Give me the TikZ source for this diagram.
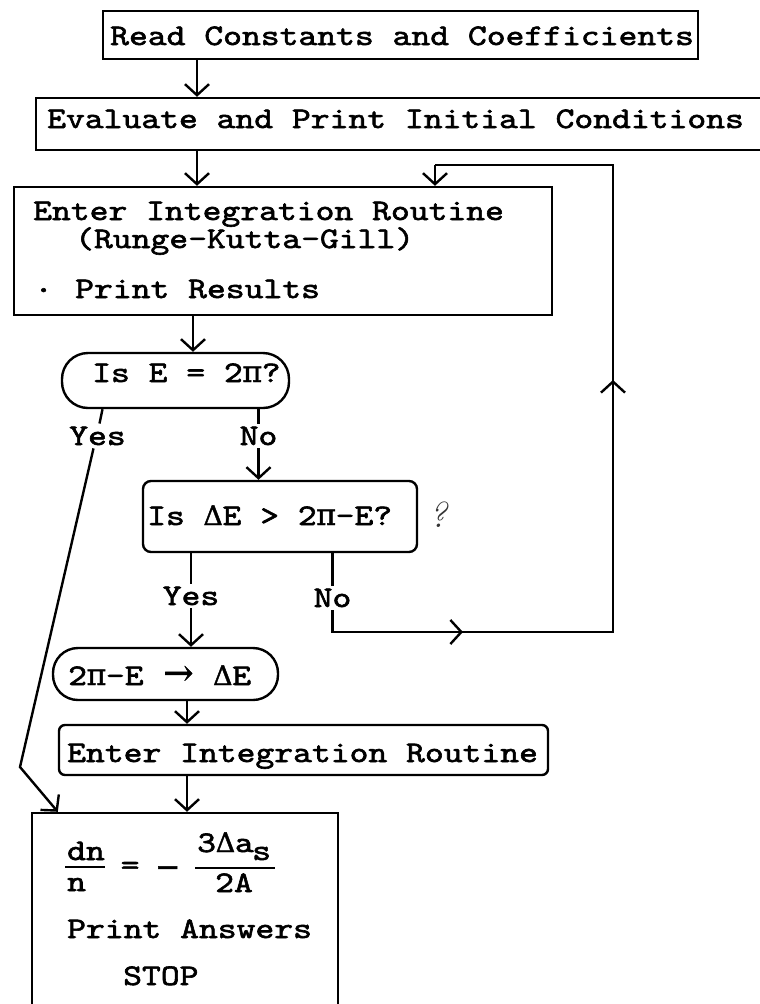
\documentclass[tikz,border=0pt]{standalone}
\usepackage{fontspec}
\usepackage{graphicx}
\usetikzlibrary{arrows.meta}
\newfontfamily\tw{lmmono10-regular.otf}[FakeStretch=1.2,FakeBold=2]
\newfontfamily\gr{DejaVu Serif}[FakeBold=1.5]
\newlength\pw
\setlength\pw{18.9bp}
\newcommand\gk[1]{\makebox[\pw]{\gr #1}}
\newcommand\gd{\makebox[\pw]{\scalebox{0.9}{\gr Δ}}}
\begin{document}
\begin{tikzpicture}[x=1bp,y=-1bp,
  ln/.style={line width=2.4bp},
  box/.style={draw, ln, rectangle, inner sep=0pt},
  arr/.style={ln, -{Straight Barb[length=11bp,width=24bp]}},
  txt/.style={font=\tw\fontsize{30}{36}\selectfont, inner sep=0pt, anchor=base west},
  lab/.style={font=\tw\fontsize{30}{36}\selectfont, inner sep=3bp, anchor=base}]
\useasboundingbox (0,0) rectangle (760,1004);
\fill[white] (0,0) rectangle (760,1004);
\clip (0,0) rectangle (760,1004);

% boxes
\node[box, minimum width=595bp, minimum height=48bp] (b1) at (400.5,35) {};
\node[txt] (t1) at (110,45) {Read Constants and Coefficients};
\node[box, minimum width=754bp, minimum height=52bp] (b2) at (413,124) {};
\node[txt] (t2) at (47,128) {Evaluate and Print Initial Conditions};
\node[box, minimum width=538bp, minimum height=128bp] (b3) at (283,251) {};
\node[txt] (t3a) at (33,220) {Enter Integration Routine};
\node[txt] (t3b) at (75,248) {(Runge-Kutta-Gill)};
\node[txt] (t3c) at (34,292) {.};
\node[txt] (t3d) at (75,298) {Print Results};
\node[box, rounded corners=26bp, minimum width=227bp, minimum height=55bp] (o1) at (175.5,380.5) {};
\node[txt] (t4) at (92,382) {Is E = 2\gk{π}?};
\node[box, rounded corners=8bp, minimum width=274bp, minimum height=71bp] (q2) at (280,516.5) {};
\node[txt] (t5) at (147,525) {Is \gd E > 2\gk{π}-E?};
\node[font=\fontsize{36}{36}\selectfont\itshape, text=black!80, anchor=base, inner sep=0pt] (qm) at (438,527) {?};
\node[box, rounded corners=25bp, minimum width=225bp, minimum height=52bp] (o2) at (165.5,674) {};
\node[txt] (t6) at (68,685) {2\gk{π}-E \makebox[1.7\pw]{\gr\fontsize{36}{36}\selectfont →} \gd E};
\node[box, rounded corners=6bp, minimum width=489bp, minimum height=50bp] (b4) at (303.5,750) {};
\node[txt] (t7) at (67,762) {Enter Integration Routine};
\node[box, minimum width=306bp, minimum height=217bp] (fin) at (185,921.5) {};

% formula
\node[txt] (f1) at (67,860) {dn};
\draw[ln] (65,867) -- (105,867);
\node[txt] (f2) at (67,891) {n};
\node[txt] (f3) at (120.5,874.5) {=};
\node[txt] (f4) at (155,877) {\gr −};
\node[txt] (f5) at (197,852) {3\gd a};
\node[txt] (f6) at (252,860) {s};
\draw[ln] (195,868) -- (275,868);
\node[txt] (f7) at (215,892) {2A};
\node[txt] (f8) at (67,938) {Print Answers};
\node[txt] (f9) at (123,985) {STOP};

% labels
\node[lab] (y1) at (97.5,445) {Yes};
\node[lab] (n1) at (258.5,445) {No};
\node[lab] (y2) at (191,605) {Yes};
\node[lab] (n2) at (332.5,607) {No};

% helper coordinates
\coordinate (xa) at (197,0);
\coordinate (xb) at (193,0);
\coordinate (xe) at (187,0);
\coordinate (lt) at (435,165);
\coordinate (rt) at (613,165);
\coordinate (rb) at (613,632);
\coordinate (ma0) at (430,632);
\coordinate (ma) at (463,632);
\coordinate (mb0) at (613,410);
\coordinate (mb) at (613,380);
\coordinate (kk) at (20,767);

% connectors
\draw[arr] (xa |- b1.south) -- (xa |- b2.north);
\draw[arr] (xa |- b2.south) -- (xa |- b3.north);
\draw[arr] (xb |- b3.south) -- (xb |- o1.north);
\draw[ln] ([xshift=5bp]y1.north |- o1.south) -- ([xshift=2bp]y1.north);
\draw[arr] ([xshift=-4bp]y1.south) -- (kk) -- ([xshift=27bp]fin.north west);
\draw[ln] (n1.north |- o1.south) -- (n1.north);
\draw[arr] (n1.south) -- (n1.south |- q2.north);
\draw[ln] (y2.north |- q2.south) -- (y2.north);
\draw[arr] (y2.south) -- (y2.south |- o2.north);
\draw[ln] (n2.north |- q2.south) -- (n2.north);
\draw[ln] (n2.south) |- (rb) -- (rt) -- (lt);
\draw[arr] (lt) -- (lt |- b3.north);
\draw[arr] (ma0) -- (ma);
\draw[arr] (mb0) -- (mb);
\draw[arr] (xe |- o2.south) -- (xe |- b4.north);
\draw[arr] (xe |- b4.south) -- (xe |- fin.north);
\end{tikzpicture}
\end{document}
